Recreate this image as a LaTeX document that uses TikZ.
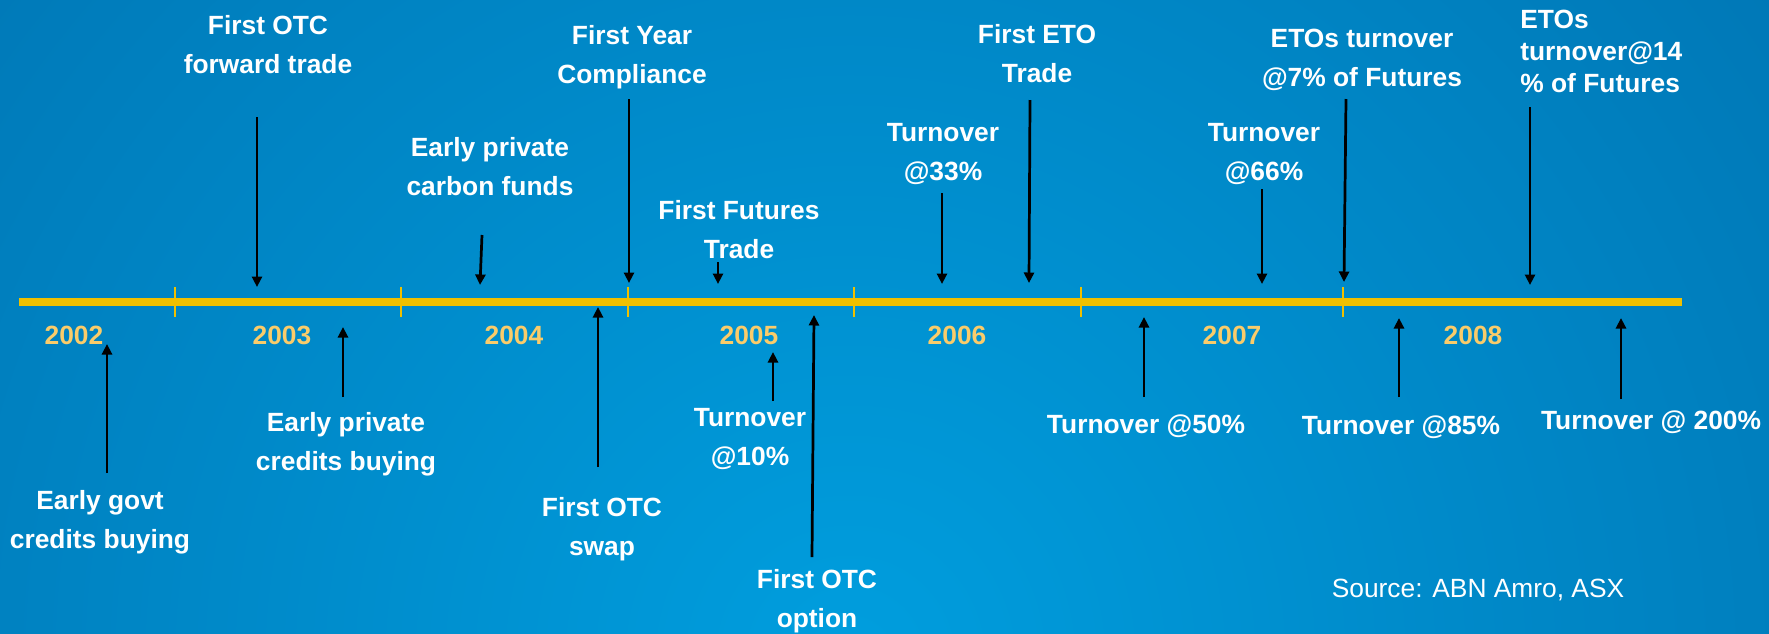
\documentclass[tikz,border=0pt]{standalone}
\usepackage{fontspec}
\setmainfont{Liberation Sans}
\usetikzlibrary{arrows.meta}
\definecolor{bgdark}{RGB}{0,98,160}
\definecolor{bglight}{RGB}{0,158,222}
\definecolor{lineyellow}{RGB}{240,192,0}
\definecolor{yearorange}{RGB}{250,204,106}
\tikzset{font=\fontsize{15}{22}\selectfont}

\begin{document}
\begin{tikzpicture}[x=0.02cm, y=-0.02cm]
	\useasboundingbox (0,0) rectangle (1769,633);
	% backdrop
	\fill[bgdark] (0,0) rectangle (1769,633);
	\begin{scope}
		\clip (0,0) rectangle (1769,633);
		\shade[inner color=bglight, outer color=bgdark] (850,660) circle (1800);
	\end{scope}

	\tikzstyle{every node}=[inner sep=0pt, text=white]
	\tikzstyle{evt}=[align=center, anchor=north, font=\fontsize{15}{22}\selectfont\bfseries]
	\tikzstyle{year}=[anchor=base, text=yearorange, font=\fontsize{15}{22}\selectfont\bfseries]
	\tikzstyle{tick}=[lineyellow, line width=0.04cm]
	\tikzstyle{evarrow}=[black, line width=1.55pt, -{Triangle[length=0.21cm, width=0.2cm]}]

	% time axis
	\coordinate (tl-w) at (19,302);
	\coordinate (tl-e) at (1682,302);
	\draw[lineyellow, line width=0.16cm] (tl-w) -- (tl-e);
	\foreach \xx in {175,401,628,854,1081,1343}
		\draw[tick] (\xx,287) -- (\xx,317);
	\foreach \yr/\xx in {2002/74, 2003/282, 2004/514, 2005/749, 2006/957, 2007/1232, 2008/1473}
		\node[year] (y\yr) at (\xx,344) {\yr};

	% events above the axis
	\node[evt] (fot) at (268,15) {First OTC\\forward trade};
	\node[evt] (epcf) at (490,137) {Early private\\carbon funds};
	\node[evt] (fyc) at (632,25) {First Year\\Compliance};
	\node[evt] (fft) at (739,200) {First Futures\\Trade};
	\node[evt] (to33) at (943,123) {Turnover\\@33\%};
	\node[evt] (feto) at (1037,24) {First ETO\\Trade};
	\node[evt] (to66) at (1264,123) {Turnover\\@66\%};
	\node[evt] (eto7) at (1362,29) {ETOs turnover\\@7\% of Futures};
	\node[evt, align=left, anchor=north west, font=\fontsize{15}{18}\selectfont\bfseries] (eto14) at (1520,10) {ETOs\\turnover@14\\\% of Futures};

	% events below the axis
	\node[evt] (egcb) at (100,490) {Early govt\\credits buying};
	\node[evt] (epcb) at (346,412) {Early private\\credits buying};
	\node[evt] (fos) at (602,497) {First OTC\\swap};
	\node[evt] (to10) at (750,408) {Turnover\\@10\%};
	\node[evt] (foo) at (817,569) {First OTC\\option};
	\node[evt] (to50) at (1146,414) {Turnover @50\%};
	\node[evt] (to85) at (1401,415) {Turnover @85\%};
	\node[evt] (to200) at (1651,410) {Turnover @ 200\%};

	\node[anchor=base] (src) at (1478,597) {Source: ABN Amro, ASX};

	% pointers onto the axis
	\foreach \n/\xa/\ya/\xb/\yb in {fot/257/117/257/287, epcf/482/235/480/285,
		fyc/629/99/629/283, fft/718/262/718/284, to33/942/193/942/284,
		feto/1030/100/1029/283, to66/1262/189/1262/284, eto7/1346/99/1344/282,
		eto14/1530/107/1530/285, egcb/107/473/107/344, epcb/343/397/343/327,
		fos/598/467/598/307, to10/773/401/773/352, foo/812/557/814/315,
		to50/1144/397/1144/317, to85/1399/397/1399/318, to200/1621/399/1621/318}
	{
		\coordinate (\n-a) at (\xa,\ya);
		\coordinate (\n-b) at (\xb,\yb);
		\draw[evarrow] (\n-a) -- (\n-b);
	}
\end{tikzpicture}
\end{document}
